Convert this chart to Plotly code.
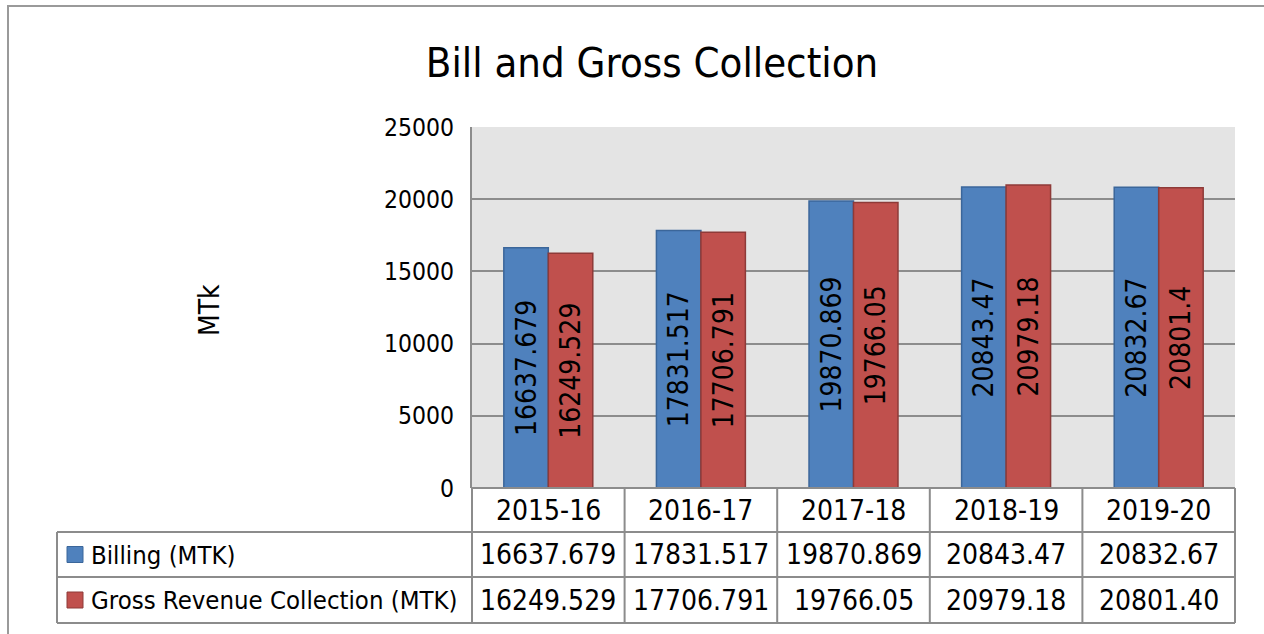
import plotly.graph_objects as go

# Chart data
years = ["2015-16", "2016-17", "2017-18", "2018-19", "2019-20"]
billing = [16637.679, 17831.517, 19870.869, 20843.47, 20832.67]
collection = [16249.529, 17706.791, 19766.05, 20979.18, 20801.4]
billing_table = ["16637.679", "17831.517", "19870.869", "20843.47", "20832.67"]
collection_table = ["16249.529", "17706.791", "19766.05", "20979.18", "20801.40"]
series_names = ["Billing (MTK)", "Gross Revenue Collection (MTK)"]
y_ticks = [0, 5000, 10000, 15000, 20000, 25000]

W, H = 1264, 634
L, R, T, B = 472, 1235, 127, 488   # plot area in pixels
FONT = "DejaVu Sans Condensed, DejaVu Sans, Tahoma, sans-serif"
GRID = "#8c8c8c"
BLUE, BLUE_EDGE = "#4f81bd", "#3b669a"
RED, RED_EDGE = "#c0504d", "#8e3a38"


def px(x):
    return (x - L) / (R - L)


def py(y):
    return (B - y) / (B - T)


fig = go.Figure()
for vals, name, col, edge in [(billing, series_names[0], BLUE, BLUE_EDGE),
                              (collection, series_names[1], RED, RED_EDGE)]:
    fig.add_trace(go.Bar(
        x=years, y=vals, name=name,
        marker=dict(color=col, line=dict(color=edge, width=1.5)),
        text=[str(v) for v in vals],
        textposition="inside", insidetextanchor="middle", textangle=-90,
        constraintext="none",
        insidetextfont=dict(family=FONT, size=28, color="black"),
        hoverinfo="skip",
    ))

shapes = []
annotations = []
line = dict(color=GRID, width=2)

# outer frame
shapes.append(dict(type="rect", xref="paper", yref="paper",
                   x0=px(8), x1=px(1275), y0=py(6), y1=py(645), line=dict(color="#9a9a9a", width=2)))

# data table grid
row_y = [B, 532, 577, 623]
col_x = [L + i * (R - L) / len(years) for i in range(len(years) + 1)]
leg_left = 57
for i, y in enumerate(row_y):
    x0 = L if i == 0 else leg_left
    shapes.append(dict(type="line", xref="paper", yref="paper",
                       x0=px(x0), x1=px(R), y0=py(y), y1=py(y), line=line))
for x in col_x:
    shapes.append(dict(type="line", xref="paper", yref="paper",
                       x0=px(x), x1=px(x), y0=py(row_y[0]), y1=py(row_y[-1]), line=line))
shapes.append(dict(type="line", xref="paper", yref="paper",
                   x0=px(leg_left), x1=px(leg_left), y0=py(row_y[1]), y1=py(row_y[-1]), line=line))

# header row and value rows
for j, yr in enumerate(years):
    annotations.append(dict(x=yr, xref="x", yref="paper", y=py((row_y[0] + row_y[1]) / 2),
                            text=yr, showarrow=False, xanchor="center", yanchor="middle",
                            font=dict(family=FONT, size=28, color="black")))
    for r, vals in enumerate([billing_table, collection_table]):
        annotations.append(dict(x=yr, xref="x", yref="paper",
                                y=py((row_y[r + 1] + row_y[r + 2]) / 2),
                                text=vals[j], showarrow=False, xanchor="center", yanchor="middle",
                                font=dict(family=FONT, size=28, color="black")))

# legend keys inside the table
for r, (name, col, edge) in enumerate([(series_names[0], BLUE, BLUE_EDGE),
                                       (series_names[1], RED, RED_EDGE)]):
    yc = (row_y[r + 1] + row_y[r + 2]) / 2
    shapes.append(dict(type="rect", xref="paper", yref="paper",
                       x0=px(67), x1=px(83), y0=py(yc + 8), y1=py(yc - 8),
                       fillcolor=col, line=dict(color=edge, width=1)))
    annotations.append(dict(x=px(89), xref="paper", yref="paper", y=py(yc),
                            text=name, showarrow=False, xanchor="left", yanchor="middle",
                            font=dict(family=FONT, size=25.5, color="black")))

# y-axis title
annotations.append(dict(x=px(209), xref="paper", yref="paper", y=py(310), text="MTk",
                        textangle=-90, showarrow=False, xanchor="center", yanchor="middle",
                        font=dict(family=FONT, size=28, color="black")))

fig.update_layout(
    width=W, height=H,
    margin=dict(l=L, r=W - R, t=T, b=H - B, pad=0),
    paper_bgcolor="white", plot_bgcolor="#e4e4e4",
    barmode="group", bargap=0.417, bargroupgap=0,
    showlegend=False,
    title=dict(text="Bill and Gross Collection", x=652 / W, xref="container", xanchor="center",
               y=1 - 62 / H, yref="container", yanchor="middle",
               font=dict(family=FONT, size=41.5, color="black")),
    xaxis=dict(range=[-0.5, len(years) - 0.5], showticklabels=False, showgrid=False,
               zeroline=False, showline=False, fixedrange=True),
    yaxis=dict(range=[0, 25000], tickvals=y_ticks, tickformat="d",
               showgrid=True, gridcolor=GRID, gridwidth=2,
               zeroline=False, showline=True, linecolor=GRID, linewidth=2,
               ticks="", ticklabelstandoff=11,
               tickfont=dict(family=FONT, size=24.5, color="black"), fixedrange=True),
    shapes=shapes, annotations=annotations,
)

fig.write_html("out.html")
